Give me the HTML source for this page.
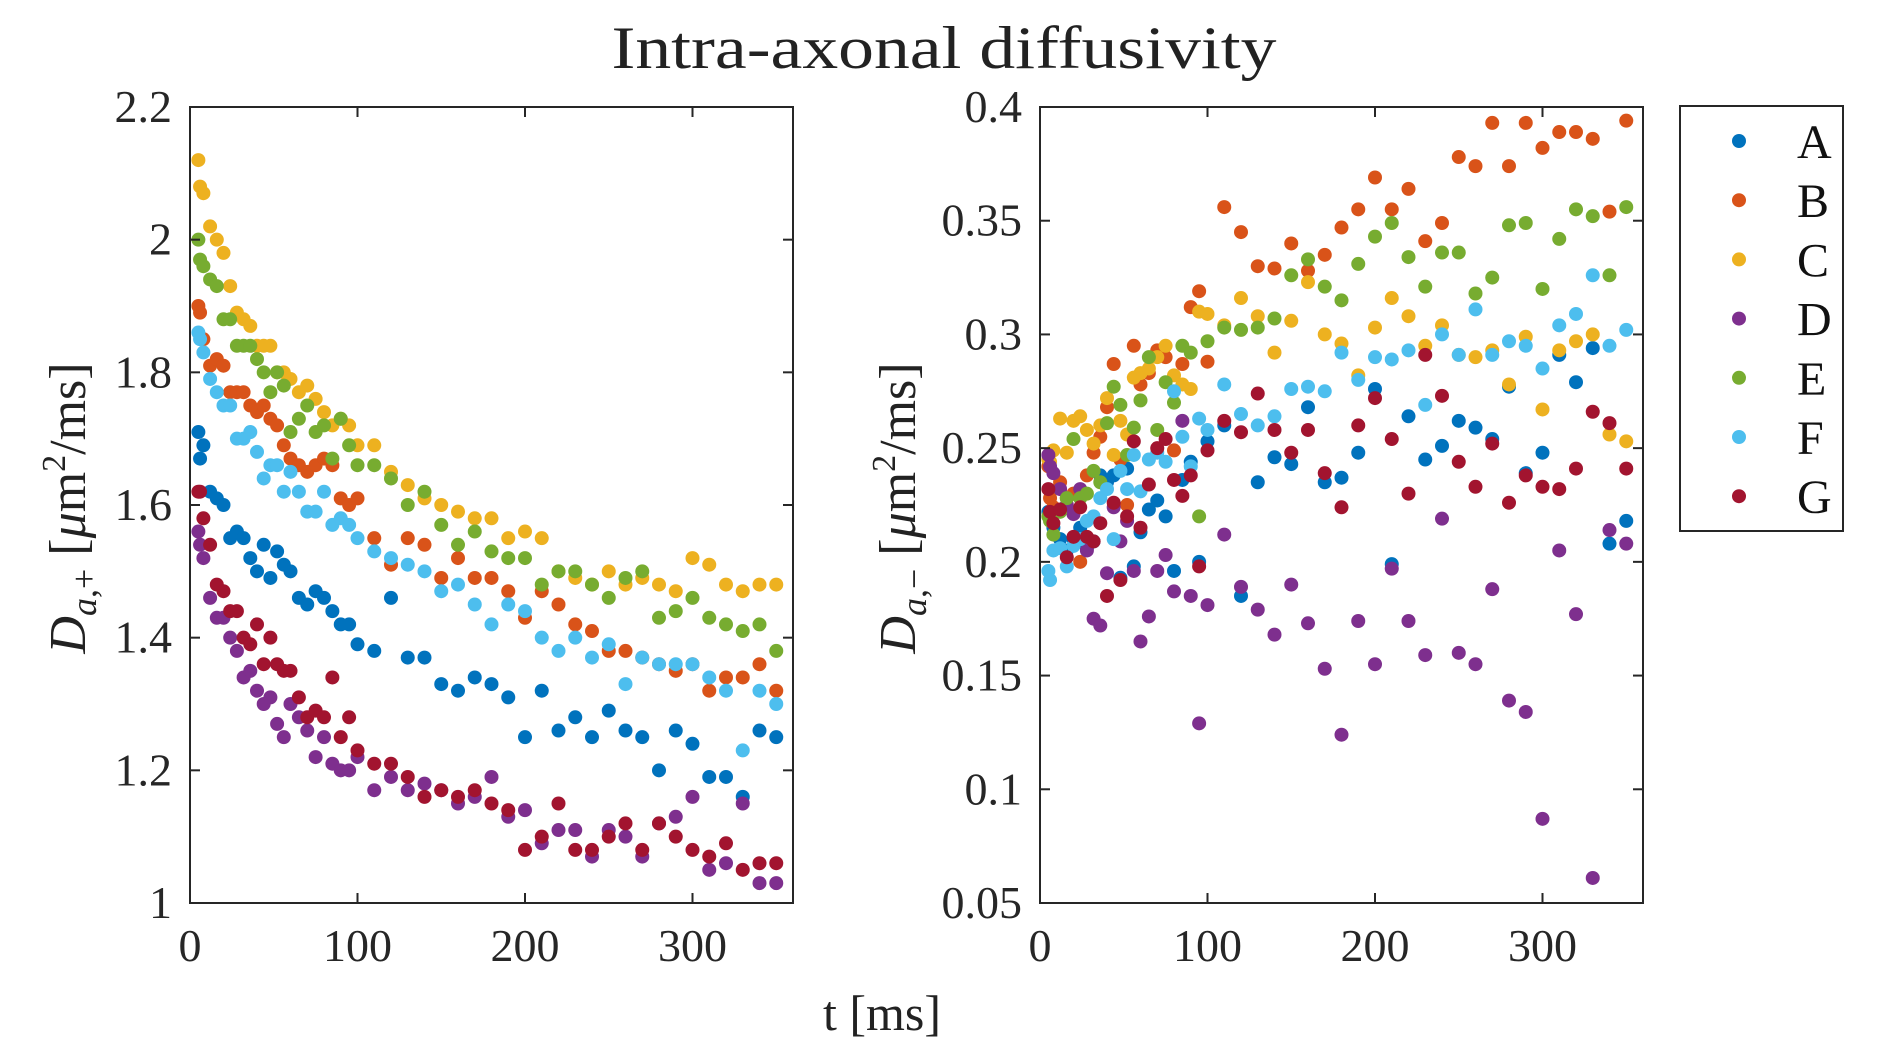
<!DOCTYPE html>
<html><head><meta charset="utf-8"><style>
html,body{margin:0;padding:0;background:#fff;}
svg{display:block;font-family:"Liberation Serif","DejaVu Serif",serif;}
</style></head><body>
<svg id="chart" width="1890" height="1063" viewBox="0 0 1890 1063" xmlns="http://www.w3.org/2000/svg">
<rect width="1890" height="1063" fill="#fff"/>
<text x="944" y="68" font-size="60" text-anchor="middle" fill="#222" textLength="665" lengthAdjust="spacingAndGlyphs">Intra-axonal diffusivity</text>
<text x="882" y="1030" font-size="50" text-anchor="middle" fill="#222">t [ms]</text>
<text transform="translate(85,508) rotate(-90)" font-size="52" text-anchor="middle" fill="#222"><tspan font-style="italic">D</tspan><tspan font-style="italic" font-size="36" dy="11">a</tspan><tspan font-size="36">,+</tspan><tspan dy="-11">  [</tspan><tspan font-style="italic">μ</tspan><tspan>m</tspan><tspan font-size="34" dy="-20">2</tspan><tspan dy="20">/ms]</tspan></text>
<text transform="translate(915,508) rotate(-90)" font-size="52" text-anchor="middle" fill="#222"><tspan font-style="italic">D</tspan><tspan font-style="italic" font-size="36" dy="11">a</tspan><tspan font-size="36">,−</tspan><tspan dy="-11">  [</tspan><tspan font-style="italic">μ</tspan><tspan>m</tspan><tspan font-size="34" dy="-20">2</tspan><tspan dy="20">/ms]</tspan></text>
<g id="left"></g>
<g id="right"></g>
<g id="legend"></g>
</svg>
<script>
const seriesNames = ["A","B","C","D","E","F","G"];
const colors = ["#0072BD","#D95319","#EDB120","#7E2F8E","#77AC30","#4DBEEE","#A2142F"];
const tValues = [5,6,8,12,16,20,24,28,32,36,40,44,48,52,56,60,65,70,75,80,85,90,95,100,110,120,130,140,150,160,170,180,190,200,210,220,230,240,250,260,270,280,290,300,310,320,330,340,350];
const xTicks = [0,100,200,300];
const leftYTicks = [1,1.2,1.4,1.6,1.8,2,2.2];
const rightYTicks = [0.05,0.1,0.15,0.2,0.25,0.3,0.35,0.4];
const leftYLabels = ["1","1.2","1.4","1.6","1.8","2","2.2"];
const rightYLabels = ["0.05","0.1","0.15","0.2","0.25","0.3","0.35","0.4"];

const plusA = [1.71,1.67,1.69,1.62,1.61,1.6,1.55,1.56,1.55,1.52,1.5,1.54,1.49,1.53,1.51,1.5,1.46,1.45,1.47,1.46,1.44,1.42,1.42,1.39,1.38,1.46,1.37,1.37,1.33,1.32,1.34,1.33,1.31,1.25,1.32,1.26,1.28,1.25,1.29,1.26,1.25,1.2,1.26,1.24,1.19,1.19,1.16,1.26,1.25];
const plusB = [1.9,1.89,1.85,1.81,1.82,1.81,1.77,1.77,1.77,1.75,1.74,1.75,1.73,1.72,1.69,1.67,1.66,1.65,1.66,1.67,1.66,1.61,1.6,1.61,1.55,1.51,1.55,1.54,1.49,1.52,1.49,1.49,1.47,1.43,1.47,1.45,1.42,1.41,1.38,1.38,1.37,1.36,1.35,1.36,1.32,1.34,1.34,1.36,1.32];
const plusC = [2.12,2.08,2.07,2.02,2.0,1.98,1.93,1.89,1.88,1.87,1.84,1.84,1.84,1.8,1.8,1.79,1.77,1.78,1.76,1.74,1.72,1.73,1.72,1.69,1.69,1.65,1.63,1.61,1.6,1.59,1.58,1.58,1.55,1.56,1.55,1.5,1.49,1.48,1.5,1.48,1.49,1.48,1.47,1.52,1.51,1.48,1.47,1.48,1.48];
const plusD = [1.56,1.54,1.52,1.46,1.43,1.43,1.4,1.38,1.34,1.35,1.32,1.3,1.31,1.27,1.25,1.3,1.28,1.26,1.22,1.25,1.21,1.2,1.2,1.22,1.17,1.19,1.17,1.18,1.17,1.15,1.16,1.19,1.13,1.14,1.09,1.11,1.11,1.07,1.11,1.1,1.07,1.12,1.13,1.16,1.05,1.06,1.15,1.03,1.03];
const plusE = [2.0,1.97,1.96,1.94,1.93,1.88,1.88,1.84,1.84,1.84,1.82,1.8,1.77,1.8,1.78,1.71,1.73,1.75,1.71,1.72,1.67,1.73,1.69,1.66,1.66,1.64,1.6,1.62,1.57,1.54,1.56,1.53,1.52,1.52,1.48,1.5,1.5,1.48,1.46,1.49,1.5,1.43,1.44,1.46,1.43,1.42,1.41,1.42,1.38];
const plusF = [1.86,1.85,1.83,1.79,1.77,1.75,1.75,1.7,1.7,1.71,1.68,1.64,1.66,1.66,1.62,1.65,1.62,1.59,1.59,1.62,1.57,1.58,1.57,1.55,1.53,1.52,1.51,1.5,1.47,1.48,1.45,1.42,1.45,1.44,1.4,1.38,1.4,1.37,1.39,1.33,1.37,1.36,1.36,1.36,1.34,1.32,1.23,1.32,1.3];
const plusG = [1.62,1.62,1.58,1.54,1.48,1.47,1.44,1.44,1.4,1.39,1.42,1.36,1.4,1.36,1.35,1.35,1.31,1.28,1.29,1.28,1.34,1.25,1.28,1.23,1.21,1.21,1.19,1.16,1.17,1.16,1.17,1.15,1.14,1.08,1.1,1.15,1.08,1.08,1.1,1.12,1.08,1.12,1.1,1.08,1.07,1.09,1.05,1.06,1.06];

const minusA = [0.222,0.22,0.215,0.21,0.205,0.21,0.215,0.206,0.209,0.238,0.235,0.238,0.193,0.241,0.198,0.213,0.223,0.227,0.22,0.196,0.236,0.244,0.2,0.253,0.26,0.185,0.235,0.246,0.243,0.268,0.235,0.237,0.248,0.276,0.199,0.264,0.245,0.251,0.262,0.259,0.254,0.277,0.239,0.248,0.291,0.279,0.294,0.208,0.218];
const minusB = [0.242,0.228,0.224,0.235,0.228,0.23,0.2,0.238,0.248,0.255,0.268,0.287,0.245,0.225,0.295,0.278,0.283,0.293,0.29,0.249,0.287,0.312,0.319,0.288,0.356,0.345,0.33,0.329,0.34,0.328,0.335,0.347,0.355,0.369,0.355,0.364,0.341,0.349,0.378,0.374,0.393,0.374,0.393,0.382,0.389,0.389,0.386,0.354,0.394];
const minusC = [0.245,0.244,0.249,0.263,0.248,0.262,0.264,0.258,0.252,0.26,0.272,0.247,0.262,0.256,0.281,0.283,0.285,0.29,0.295,0.282,0.278,0.276,0.31,0.309,0.304,0.316,0.308,0.292,0.306,0.323,0.3,0.296,0.282,0.303,0.316,0.308,0.295,0.304,0.291,0.29,0.293,0.278,0.299,0.267,0.293,0.297,0.3,0.256,0.253];
const minusD = [0.247,0.242,0.239,0.232,0.225,0.221,0.232,0.205,0.175,0.172,0.195,0.224,0.209,0.218,0.196,0.165,0.176,0.196,0.203,0.187,0.262,0.185,0.129,0.181,0.212,0.189,0.179,0.168,0.19,0.173,0.153,0.124,0.174,0.155,0.197,0.174,0.159,0.219,0.16,0.155,0.188,0.139,0.134,0.087,0.205,0.177,0.061,0.214,0.208];
const minusE = [0.22,0.218,0.212,0.222,0.228,0.254,0.228,0.23,0.24,0.235,0.261,0.277,0.269,0.247,0.259,0.271,0.29,0.258,0.279,0.27,0.295,0.292,0.22,0.297,0.303,0.302,0.303,0.307,0.326,0.333,0.321,0.315,0.331,0.343,0.349,0.334,0.321,0.336,0.336,0.318,0.325,0.348,0.349,0.32,0.342,0.355,0.352,0.326,0.356];
const minusF = [0.196,0.192,0.205,0.206,0.198,0.207,0.21,0.218,0.22,0.228,0.232,0.21,0.24,0.232,0.247,0.231,0.245,0.248,0.244,0.275,0.255,0.242,0.263,0.258,0.278,0.265,0.26,0.264,0.276,0.277,0.275,0.292,0.28,0.29,0.289,0.293,0.269,0.3,0.291,0.311,0.291,0.297,0.295,0.285,0.304,0.309,0.326,0.295,0.302];
const minusG = [0.232,0.222,0.217,0.223,0.202,0.211,0.224,0.211,0.209,0.217,0.185,0.226,0.192,0.22,0.253,0.215,0.234,0.25,0.254,0.236,0.229,0.238,0.198,0.249,0.262,0.257,0.274,0.258,0.248,0.258,0.239,0.224,0.26,0.272,0.254,0.23,0.291,0.273,0.244,0.233,0.252,0.226,0.238,0.233,0.232,0.241,0.266,0.261,0.241];

const plusSeries = [plusA,plusB,plusC,plusD,plusE,plusF,plusG];
const minusSeries = [minusA,minusB,minusC,minusD,minusE,minusF,minusG];

const NS = "http://www.w3.org/2000/svg";
function mk(tag, attrs, parent){const e=document.createElementNS(NS,tag);for(const k in attrs)e.setAttribute(k,attrs[k]);parent.appendChild(e);return e;}

function drawPanel(g, x0, x1, y0, y1, yMin, yMax, yTicks, yLabels, series, prefix){
  const xs = v => x0 + (v/360)*(x1-x0);
  const ys = v => y1 - (v-yMin)/(yMax-yMin)*(y1-y0);
  for(let s=0;s<series.length;s++){
    const sg = mk("g",{},g);
    
    
    series[s].forEach((v,i)=>{
      const c = mk("circle",{cx:xs(tValues[i]),cy:ys(v),r:7,fill:colors[s]},sg);
      
      
    });
  }
  const fr = mk("rect",{x:x0,y:y0,width:x1-x0,height:y1-y0,fill:"none",stroke:"#262626","stroke-width":2},g);
  
  
  xTicks.forEach(t=>{
    const x = xs(t);
    mk("line",{x1:x,x2:x,y1:y1,y2:y1-10,stroke:"#262626","stroke-width":2},g);
    mk("line",{x1:x,x2:x,y1:y0,y2:y0+10,stroke:"#262626","stroke-width":2},g);
    const tx = mk("text",{x:x,y:961,"font-size":46,"text-anchor":"middle",fill:"#262626"},g);
    tx.textContent = t;
    
    
  });
  yTicks.forEach((t,i)=>{
    const y = ys(t);
    mk("line",{x1:x0,x2:x0+10,y1:y,y2:y,stroke:"#262626","stroke-width":2},g);
    mk("line",{x1:x1,x2:x1-10,y1:y,y2:y,stroke:"#262626","stroke-width":2},g);
    const tx = mk("text",{x:x0-18,y:y+15,"font-size":46,"text-anchor":"end",fill:"#262626"},g);
    tx.textContent = yLabels[i];
    
    
  });
}
drawPanel(document.getElementById("left"),190,793,107,903,1,2.2,leftYTicks,leftYLabels,plusSeries,"left");
drawPanel(document.getElementById("right"),1040,1643,107,903,0.05,0.4,rightYTicks,rightYLabels,minusSeries,"right");

const lg = document.getElementById("legend");
const box = mk("rect",{x:1680,y:106,width:163,height:425,fill:"#fff",stroke:"#262626","stroke-width":2},lg);


seriesNames.forEach((n,i)=>{
  const y = 141 + i*59.2;
  const eg = mk("g",{},lg);
  
  
  mk("circle",{cx:1739,cy:y,r:7,fill:colors[i]},eg);
  const t = mk("text",{x:1797,y:y+17,"font-size":48,fill:"#111"},eg);
  t.textContent = n;
});
</script>
</body></html>
